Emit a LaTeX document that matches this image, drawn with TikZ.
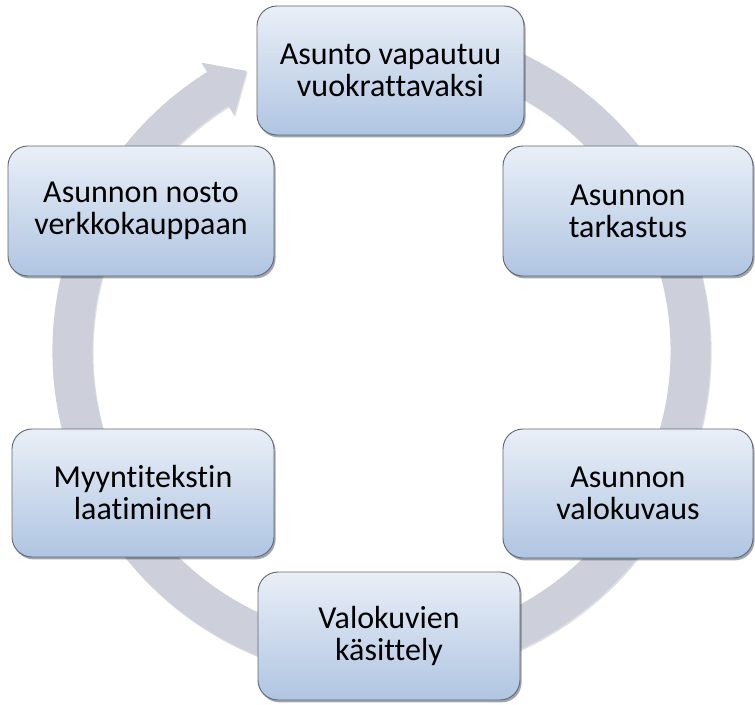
\documentclass[tikz,border=0pt]{standalone}
\usepackage{fontspec}
\setmainfont[RawFeature={-liga;-clig;-dlig;-calt}]{Carlito}
\usetikzlibrary{calc,shadows}

\definecolor{ringfill}{RGB}{205,208,218}
\definecolor{boxtop}{RGB}{233,239,247}
\definecolor{boxbottom}{RGB}{176,197,226}
\definecolor{boxline}{RGB}{95,104,118}

\tikzset{
  stage/.style={
    draw=boxline, line width=0.7pt, rounded corners=15pt,
    top color=boxtop, bottom color=boxbottom,
    align=center, inner sep=0pt, text=black,
    font=\fontsize{24pt}{24pt}\selectfont,
    drop shadow={shadow xshift=1.2pt, shadow yshift=-1.8pt, opacity=0.35, fill=black}
  },
  ring/.style={
    fill=ringfill,
    drop shadow={shadow xshift=0.8pt, shadow yshift=-1.2pt, opacity=0.12, fill=black}
  }
}

\begin{document}
\begin{tikzpicture}[x=0.75pt,y=0.75pt]
  \useasboundingbox[fill=white] (0,0) rectangle (755,704);

  % centre of the circular arrow
  \coordinate (c) at (381.5,353);

  % circular arrow running clockwise, head pointing at the first stage
  \path[ring]
    ($(c)+(75:329)$) arc[start angle=75, end angle=-238, radius=246.75pt]
    -- ($(c)+(122:340)$)
    -- ($(c)+(122:309)+(32:34)$)
    -- ($(c)+(122:278)$)
    -- ($(c)+(122:289)$) arc[start angle=-238, end angle=75, radius=216.75pt]
    -- cycle;

  % stages of the cycle
  \node[stage, minimum width=200.25pt, minimum height=96.75pt] (s1) at (390.5,633.5)
    {Asunto vapautuu\\vuokrattavaksi};
  \node[stage, minimum width=187.5pt, minimum height=97.5pt] (s2) at (628,493)
    {Asunnon\\tarkastus};
  \node[stage, minimum width=187.5pt, minimum height=96.75pt] (s3) at (628,210.5)
    {Asunnon\\valokuvaus};
  \node[stage, minimum width=196.5pt, minimum height=96pt] (s4) at (389,68)
    {Valokuvien\\käsittely};
  \node[stage, minimum width=196.5pt, minimum height=96pt] (s5) at (143,211)
    {Myyntitekstin\\laatiminen};
  \node[stage, minimum width=199.5pt, minimum height=97.5pt] (s6) at (141,493)
    {Asunnon nosto\\verkkokauppaan};
\end{tikzpicture}
\end{document}
